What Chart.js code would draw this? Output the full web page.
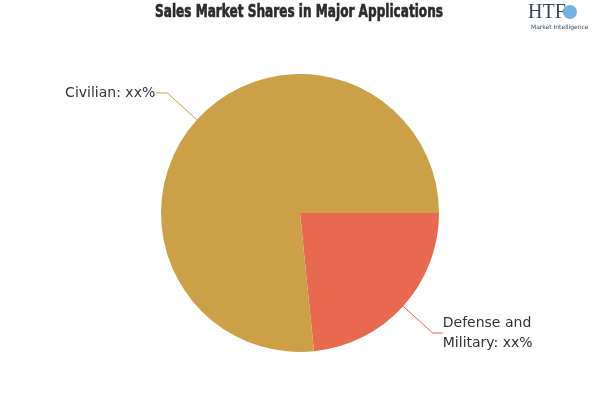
<!DOCTYPE html>
<html><head><meta charset="utf-8">
<script src="https://cdn.jsdelivr.net/npm/chart.js@4/dist/chart.umd.min.js"></script>
<style>html,body{margin:0;padding:0;background:#fff;}canvas{display:block;}</style>
</head><body>
<canvas id="c" width="600" height="400"></canvas>
<script>
const categories = ["Defense and Military", "Civilian"];
const labelLines = [["Defense and", "Military: xx%"], ["Civilian: xx%"]];
const shares = [23.4, 76.6];
const colors = ["#E8694F", "#CCA047"];
const titleText = "Sales Market Shares in Major Applications";

const overlay = {
  id: "overlay",
  beforeDraw(chart) {
    const ctx = chart.ctx;
    ctx.save();
    ctx.fillStyle = "#fff";
    ctx.fillRect(0, 0, chart.width, chart.height);
    ctx.restore();
  },
  afterDraw(chart) {
    const ctx = chart.ctx;
    ctx.save();
    // title (heavy, condensed)
    ctx.fillStyle = "#2b2b2b";
    ctx.font = "bold 17px 'DejaVu Sans Condensed', 'DejaVu Sans', sans-serif";
    ctx.textAlign = "center";
    ctx.textBaseline = "middle";
    const tw = ctx.measureText(titleText).width;
    const sx = 288 / tw;
    ctx.save();
    ctx.translate(299, 13);
    ctx.scale(sx, 1);
    ctx.lineWidth = 0.6;
    ctx.strokeStyle = "#2b2b2b";
    ctx.strokeText(titleText, 0, 0);
    ctx.fillText(titleText, 0, 0);
    ctx.restore();
    // logo
    ctx.font = "20px 'Liberation Serif', serif";
    ctx.fillStyle = "#3a4a5c";
    ctx.textAlign = "left";
    ctx.fillText("HTF", 528, 13);
    ctx.fillStyle = "#6fb3e0";
    ctx.beginPath(); ctx.arc(570, 12, 7, 0, Math.PI * 2); ctx.fill();
    ctx.font = "6px 'DejaVu Sans', sans-serif";
    ctx.fillStyle = "#3a4a5c";
    ctx.fillText("Market Intelligence", 531, 27);
    // labels with leader lines
    const meta = chart.getDatasetMeta(0);
    meta.data.forEach((arc, i) => {
      const p = arc.getProps(["x", "y", "startAngle", "endAngle", "outerRadius"], true);
      const mid = (p.startAngle + p.endAngle) / 2;
      const cx = Math.cos(mid), cy = Math.sin(mid);
      const x0 = p.x + cx * p.outerRadius, y0 = p.y + cy * p.outerRadius;
      const right = cx >= 0;
      const x1 = p.x + cx * (p.outerRadius + 40), y1 = p.y + cy * (p.outerRadius + 40);
      const x2 = x1 + (right ? 10 : -11);
      ctx.strokeStyle = colors[i];
      ctx.lineWidth = 1;
      ctx.beginPath(); ctx.moveTo(x0, y0); ctx.lineTo(x1, y1); ctx.lineTo(x2, y1); ctx.stroke();
      ctx.fillStyle = "#333";
      ctx.font = "14px 'DejaVu Sans', sans-serif";
      ctx.textAlign = right ? "left" : "right";
      ctx.textBaseline = "middle";
      const lines = labelLines[i];
      const lh = 20;
      const startY = y1 - (lines.length - 1) * lh / 2;
      lines.forEach((t, k) => ctx.fillText(t, x2 + (right ? 0 : -1), startY + k * lh));
    });
    ctx.restore();
  }
};

new Chart(document.getElementById("c"), {
  type: "pie",
  data: { labels: categories, datasets: [{ data: shares, backgroundColor: colors, borderWidth: 0 }] },
  options: {
    responsive: false,
    animation: false,
    rotation: 90,
    layout: { padding: { top: 74, bottom: 48, left: 161, right: 161 } },
    plugins: { legend: { display: false }, tooltip: { enabled: false }, title: { display: false } }
  },
  plugins: [overlay]
});
</script>
</body></html>
